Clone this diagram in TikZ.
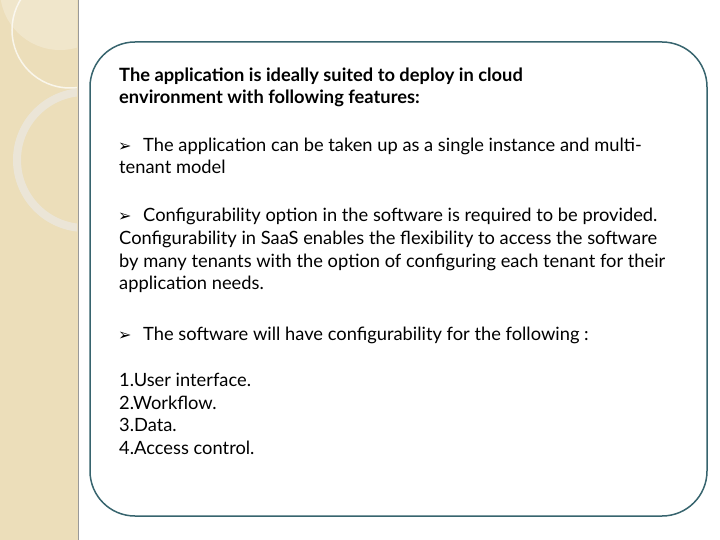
\documentclass[tikz,border=0pt]{standalone}
\usepackage{fontspec}
\setmainfont{Lato}
\newfontfamily\symf{DejaVu Sans}
\begin{document}
\begin{tikzpicture}[x=1pt,y=-1pt,
  txt/.style={anchor=base west,inner sep=0pt,font=\fontsize{18.3}{21}\selectfont},
  bul/.style={anchor=base west,inner sep=0pt,font=\symf\fontsize{16}{18}\selectfont}]
\useasboundingbox (0,0) rectangle (720,540);
\definecolor{beige}{RGB}{236,222,186}
\definecolor{teal1}{RGB}{55,100,110}
\fill[white] (0,0) rectangle (720,540);
\fill[beige] (0,0) rectangle (78,540);
\draw[color=black!40,line width=1pt] (78,0) -- (78,540);
\begin{scope}
\clip (0,0) rectangle (77,540);
\fill[white,opacity=0.25] (60,-10) circle (60);
\draw[white!90!beige,line width=1.5pt,opacity=0.8] (70,30) circle (58);
\draw[black!8,line width=8pt,opacity=0.6] (85,160) circle (68);
\end{scope}
\draw[teal1,line width=1.5pt,rounded corners=45] (90,42) rectangle (707,516);
\node[txt,font=\bfseries\fontsize{18.3}{21}\selectfont] (l1) at (119,82) {The application is ideally suited to deploy in cloud};
\node[txt,font=\bfseries\fontsize{18.3}{21}\selectfont] (l2) at (119,104) {environment with following features:};
\node[bul] (b1) at (118,152) {➢};
\node[txt] (l3) at (143,152) {The application can be taken up as a single instance and multi-};
\node[txt] (l4) at (119,174) {tenant model};
\node[bul] (b2) at (118,222) {➢};
\node[txt] (l5) at (143,222) {Configurability option in the software is required to be provided.};
\node[txt] (l6) at (119,244) {Configurability in SaaS enables the flexibility to access the software};
\node[txt] (l7) at (119,267) {by many tenants with the option of configuring each tenant for their};
\node[txt] (l8) at (119,289) {application needs.};
\node[bul] (b3) at (118,340) {➢};
\node[txt] (l9) at (143,340) {The software will have configurability for the following :};
\node[txt] (n1) at (119,386) {1.User interface.};
\node[txt] (n2) at (119,409) {2.Workflow.};
\node[txt] (n3) at (119,431) {3.Data.};
\node[txt] (n4) at (119,454) {4.Access control.};
\end{tikzpicture}
\end{document}
